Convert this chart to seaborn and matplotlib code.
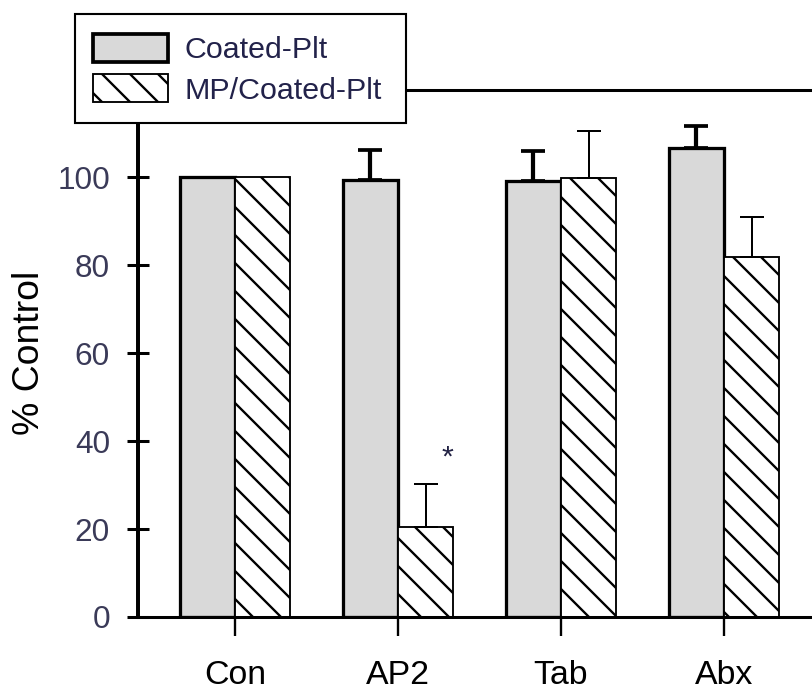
import matplotlib
matplotlib.use("Agg")
import matplotlib.pyplot as plt
import matplotlib.patches as mpatches
import numpy as np
import pandas as pd
import seaborn as sns

# Platelet adhesion, expressed as percent of control
treatments = ["Con", "AP2", "Tab", "Abx"]
groups = ["Coated-Plt", "MP/Coated-Plt"]
coated_mean = [100.0, 99.3, 99.1, 106.8]
coated_sem = [0.0, 7.0, 6.8, 5.0]
mp_mean = [100.0, 20.5, 99.8, 81.8]
mp_sem = [0.0, 9.8, 10.7, 9.1]
y_ticks = [0, 20, 40, 60, 80, 100]
significant = ["AP2"]

DPI = 168
W, H = 812, 693

sns.set_style("ticks")
plt.rcParams["font.family"] = ["Liberation Sans", "DejaVu Sans"]
plt.rcParams["hatch.linewidth"] = 1.0
plt.rcParams["hatch.color"] = "black"

df = pd.DataFrame({
    "treatment": treatments * 2,
    "group": [groups[0]] * len(treatments) + [groups[1]] * len(treatments),
    "value": coated_mean + mp_mean,
})

fig = plt.figure(figsize=(W / DPI, H / DPI), dpi=DPI)
ax_left, ax_right = 138 / W, 1.0
ax_bottom, ax_top = 1 - 617 / H, 1 - 89.5 / H
ax = fig.add_axes([ax_left, ax_bottom, ax_right - ax_left, ax_top - ax_bottom])

GRAY = "#d9d9d9"
HATCH = "\\\\"
sns.barplot(data=df, x="treatment", y="value", hue="group", order=treatments,
            hue_order=groups, palette=[GRAY, "white"], width=0.675,
            errorbar=None, legend=False, ax=ax, saturation=1)

styles = [
    dict(hatch=None, lw=1.4, err_lw=1.8, cap_lw=1.6),
    dict(hatch=HATCH, lw=0.8, err_lw=0.85, cap_lw=0.85),
]
sems = [coated_sem, mp_sem]
for cont, st, err in zip(ax.containers, styles, sems):
    xs, ys = [], []
    for bar in cont:
        bar.set_edgecolor("black")
        bar.set_linewidth(st["lw"])
        if st["hatch"]:
            bar.set_hatch(st["hatch"])
        xs.append(bar.get_x() + bar.get_width() / 2)
        ys.append(bar.get_height())
    xs, ys, e = np.array(xs), np.array(ys), np.array(err)
    keep = e > 0
    ax.errorbar(xs[keep], ys[keep], yerr=[np.zeros(keep.sum()), e[keep]],
                fmt="none", ecolor="black", elinewidth=st["err_lw"],
                capsize=5.0, capthick=st["cap_lw"], zorder=1)

# significance marker above the MP bar
mp_bars = ax.containers[1]
for name in significant:
    i = treatments.index(name)
    bar = mp_bars[i]
    top = mp_mean[i] + mp_sem[i]
    ax.text(bar.get_x() + bar.get_width() * 0.9, top + 6.0, "*",
            ha="center", va="center", fontsize=13, color="#222244")

ax.set_xlim((138 - 235) / 163, (812 - 235) / 163)
ax.set_ylim(0, 120)
ax.set_yticks(y_ticks)
ax.set_xlabel("")
ax.set_ylabel("% Control", fontsize=16, color="black")
ax.yaxis.set_label_coords(-0.135, 0.5)

ax.spines["right"].set_visible(False)
ax.spines["left"].set_linewidth(1.7)
ax.spines["bottom"].set_linewidth(1.3)
ax.spines["top"].set_linewidth(1.3)
for s in ax.spines.values():
    s.set_color("black")

ax.tick_params(axis="y", direction="inout", length=9.4, width=1.3,
               labelsize=13.5, labelcolor="#3a3a58", pad=7.3, color="black")
ax.tick_params(axis="x", direction="out", length=8, width=1.0,
               labelsize=14.5, labelcolor="black", pad=10.5, color="black")

# legend box
fig.patches.append(mpatches.Rectangle((75 / W, 1 - 123 / H), (406 - 75) / W, (123 - 14) / H,
                                      transform=fig.transFigure, facecolor="white",
                                      edgecolor="black", linewidth=0.9, zorder=4))
handles = [
    mpatches.Patch(facecolor=GRAY, edgecolor="black", linewidth=1.6, label=groups[0]),
    mpatches.Patch(facecolor="white", edgecolor="black", linewidth=0.8, hatch=HATCH, label=groups[1]),
]
leg = fig.legend(handles=handles, loc="upper left", bbox_to_anchor=(93 / W, 1 - 34 / H),
                 bbox_transform=fig.transFigure, frameon=False, fontsize=13,
                 handlelength=2.47, handleheight=1.05, handletextpad=0.56,
                 labelspacing=0.32, borderpad=0, borderaxespad=0)
leg.set_zorder(5)
for t in leg.get_texts():
    t.set_color("#22224a")

fig.savefig("out.png", dpi=DPI)
